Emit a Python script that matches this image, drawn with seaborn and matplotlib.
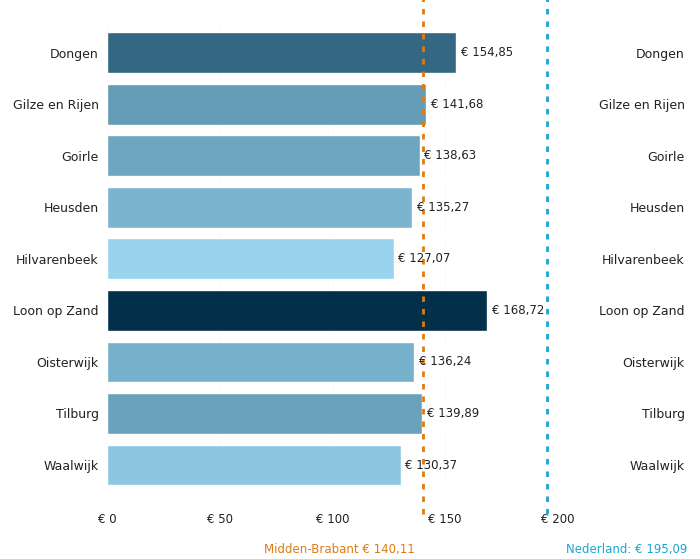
import numpy as np
import pandas as pd
import seaborn as sns
import matplotlib.pyplot as plt
from matplotlib.colors import LinearSegmentedColormap, Normalize

# Data
gemeenten = ['Dongen', 'Gilze en Rijen', 'Goirle', 'Heusden', 'Hilvarenbeek',
             'Loon op Zand', 'Oisterwijk', 'Tilburg', 'Waalwijk']
bedragen = [154.85, 141.68, 138.63, 135.27, 127.07, 168.72, 136.24, 139.89, 130.37]
regio_label = 'Midden-Brabant € 140,11'
regio_waarde = 140.11
nl_label = 'Nederland: € 195,09'
nl_waarde = 195.09
x_ticks = [0, 50, 100, 150, 200]


def euro(v):
    return '€ ' + f'{v:.2f}'.replace('.', ',')


def main():
    sns.set_theme(style='white')
    plt.rcParams['font.family'] = ['DejaVu Sans']

    df = pd.DataFrame({'gemeente': gemeenten, 'bedrag': bedragen})
    cmap = LinearSegmentedColormap.from_list('blauw', ['#98d4ee', '#02304a'])
    norm = Normalize(min(bedragen), max(bedragen))
    palette = {g: cmap(norm(v)) for g, v in zip(gemeenten, bedragen)}

    fig = plt.figure(figsize=(7, 5.59), dpi=100)
    ax = fig.add_axes([0.153, 0.122, 0.644, 0.83])

    sns.barplot(data=df, y='gemeente', x='bedrag', hue='gemeente', palette=palette,
                legend=False, width=0.79, saturation=1, ax=ax)

    for i, v in enumerate(bedragen):
        ax.text(v + 2, i, euro(v), va='center', ha='left', fontsize=8.5, color='#222222')

    ax.set_xlim(0, 200)
    ax.set_xticks(x_ticks)
    ax.set_xticklabels([f'€ {t}' for t in x_ticks], fontsize=8.5, color='#222222')
    ax.tick_params(axis='y', labelsize=9, colors='#222222', length=0, pad=6)
    ax.tick_params(axis='x', length=0, pad=16)
    ax.set_xlabel('')
    ax.set_ylabel('')
    for s in ax.spines.values():
        s.set_visible(False)
    ax.xaxis.grid(True, color='#f4f4f4', linewidth=0.8, linestyle=':')
    ax.set_axisbelow(True)

    ax.axvline(regio_waarde, ymin=-0.05, ymax=1.06, color='#e07b10', linestyle=(0, (2, 2.5)),
               linewidth=2, clip_on=False)
    ax.axvline(nl_waarde, ymin=-0.05, ymax=1.06, color='#1ba6d3', linestyle=(0, (2, 2.5)),
               linewidth=2, clip_on=False)

    fig.text(415 / 700, 1 - 550 / 559, regio_label, ha='right', va='center',
             fontsize=8.5, color='#e07b10')
    fig.text(566 / 700, 1 - 550 / 559, nl_label, ha='left', va='center',
             fontsize=8.5, color='#1ba6d3')

    # second (cut-off) panel: only its category labels are visible
    ax2 = fig.add_axes([0.99, 0.122, 0.1, 0.83])
    ax2.set_ylim(ax.get_ylim())
    ax2.set_yticks(range(len(gemeenten)))
    ax2.set_yticklabels(gemeenten)
    ax2.tick_params(axis='y', labelsize=9, colors='#222222', length=0, pad=6)
    ax2.set_xticks([])
    for s in ax2.spines.values():
        s.set_visible(False)

    fig.savefig('out.png', dpi=100)


if __name__ == '__main__':
    main()
